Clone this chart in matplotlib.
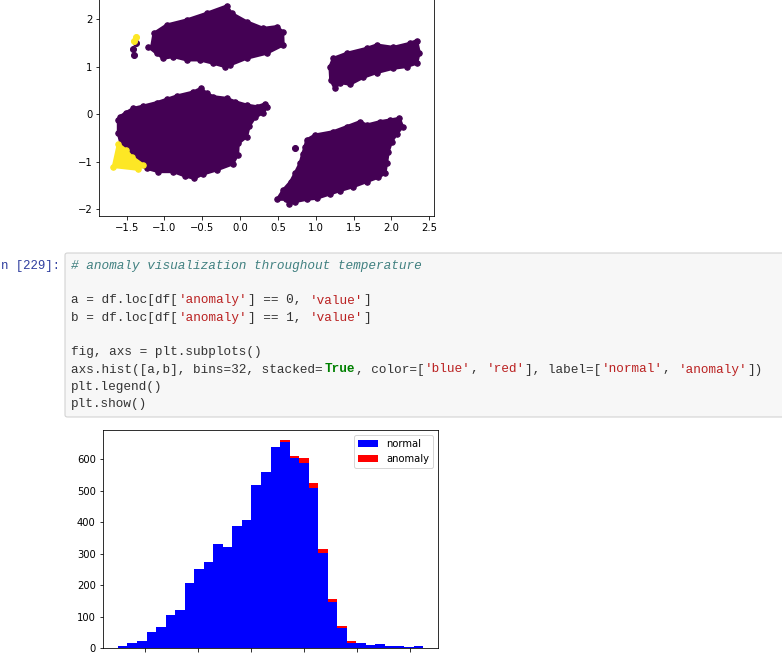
import numpy as np
import matplotlib.pyplot as plt
from matplotlib.patches import FancyBboxPatch

# figure is a notebook screenshot: 782x654 px, drawn at 72 dpi like old inline plots
W, H = 782, 654

# --- scatter clusters (outlines of the dense point clouds, data coords) ---
cluster_top_left = [(-1.17, 1.42), (-1.139, 1.705), (-0.971, 1.88), (-0.707, 1.986), (-0.443, 2.126),
                    (-0.178, 2.28), (-0.112, 2.126), (0.086, 1.95), (0.306, 1.81), (0.482, 1.846),
                    (0.562, 1.74), (0.570, 1.46), (0.35, 1.284), (0.086, 1.179), (-0.134, 1.039),
                    (-0.2, 1.004), (-0.355, 1.074), (-0.531, 1.144), (-0.707, 1.144), (-0.883, 1.214),
                    (-1.015, 1.179), (-1.104, 1.284), (-1.214, 1.425)]
cluster_top_right = [(1.187, 1.003), (1.231, 1.179), (1.407, 1.284), (1.672, 1.389), (1.804, 1.46),
                     (2.024, 1.41), (2.244, 1.495), (2.333, 1.551), (2.368, 1.298), (2.333, 1.074),
                     (2.2, 1.004), (2.024, 0.968), (1.804, 0.877), (1.628, 0.779), (1.452, 0.632),
                     (1.319, 0.667), (1.253, 0.547), (1.196, 0.723)]
cluster_bottom_left = [(-1.588, -0.049), (-1.509, 0.035), (-1.412, 0.126), (-1.28, 0.175), (-1.104, 0.246),
                       (-0.971, 0.316), (-0.839, 0.386), (-0.619, 0.47), (-0.518, 0.547), (-0.443, 0.442),
                       (-0.355, 0.372), (-0.178, 0.337), (-0.068, 0.267), (0.086, 0.196), (0.218, 0.161),
                       (0.328, 0.218), (0.35, 0.147), (0.306, 0.035), (0.196, -0.063), (0.121, -0.246),
                       (0.086, -0.47), (-0.024, -0.611), (-0.033, -0.856), (-0.1, -1.046), (-0.311, -1.172),
                       (-0.487, -1.256), (-0.61, -1.347), (-0.729, -1.298), (-0.883, -1.207), (-1.081, -1.207),
                       (-1.236, -1.137), (-1.368, -1.032), (-1.478, -0.856), (-1.566, -0.681), (-1.61, -0.4),
                       (-1.61, -0.119)]
cluster_bottom_right = [(0.879, -0.54), (0.989, -0.435), (1.231, -0.365), (1.407, -0.26), (1.584, -0.154),
                        (1.672, -0.225), (1.848, -0.154), (1.98, -0.119), (2.104, -0.084), (2.148, -0.26),
                        (2.068, -0.414), (2.002, -0.575), (1.958, -0.786), (1.936, -1.032), (1.914, -1.242),
                        (1.826, -1.326), (1.672, -1.418), (1.496, -1.523), (1.319, -1.607), (1.187, -1.677),
                        (1.011, -1.768), (0.879, -1.789), (0.725, -1.839), (0.65, -1.888), (0.606, -1.789),
                        (0.491, -1.789), (0.57, -1.593), (0.667, -1.418), (0.725, -1.242), (0.791, -1.032),
                        (0.826, -0.835), (0.857, -0.681)]
anomaly_cluster = [(-1.61, -0.625), (-1.676, -1.10), (-1.346, -1.158), (-1.28, -1.067),
                   (-1.434, -0.891), (-1.509, -0.751)]

normal_pts_x = [-1.377, -1.412, -1.403, 0.725]
normal_pts_y = [1.495, 1.368, 1.249, -0.716]
anomaly_pts_x = [-1.377, -1.403]
anomaly_pts_y = [1.635, 1.537]

# --- histogram (temperature), 32 bins ---
temp_min, temp_max = 57.458, 86.223
normal_counts = [7, 17, 23, 52, 68, 106, 122, 208, 252, 275, 332, 322, 389, 408, 519, 561,
                 640, 655, 605, 589, 510, 303, 147, 65, 18, 17, 11, 14, 7, 7, 4, 7]
anomaly_counts = [0, 0, 0, 0, 0, 0, 0, 0, 0, 0, 0, 0, 0, 0, 0, 0,
                  0, 5, 7, 16, 16, 13, 10, 6, 5, 0, 0, 0, 0, 0, 0, 0]

PURPLE = '#440154'
YELLOW = '#fde725'


def rect(left, top, right, bottom):
    return [left / W, 1 - bottom / H, (right - left) / W, (bottom - top) / H]


fig = plt.figure(figsize=(W / 72, H / 72), dpi=72)

# scatter plot (top, partly cut off)
ax1 = fig.add_axes(rect(99.3, -4, 434.3, 216))
for poly in [cluster_top_left, cluster_top_right, cluster_bottom_left, cluster_bottom_right]:
    xs, ys = zip(*poly)
    ax1.fill(xs, ys, facecolor=PURPLE, edgecolor=PURPLE, lw=3, joinstyle='round')
    # point markers along the outline give the ragged, dotted edge
    ax1.scatter(xs, ys, color=PURPLE, s=30)
ax1.scatter(normal_pts_x, normal_pts_y, color=PURPLE)
xs, ys = zip(*anomaly_cluster)
ax1.fill(xs, ys, facecolor=YELLOW, edgecolor=YELLOW, lw=3, joinstyle='round')
ax1.scatter(xs, ys, color=YELLOW, s=30)
ax1.scatter(anomaly_pts_x, anomaly_pts_y, color=YELLOW)
ax1.set_xlim(-1.861, 2.566)
ax1.set_ylim(-2.14, 2.49)
ax1.set_xticks(np.arange(-1.5, 2.51, 0.5))
ax1.set_yticks([-2, -1, 0, 1, 2])

# code cell
fig.patches.append(FancyBboxPatch((65 / W, 1 - 417 / H), 760 / W, 164 / H,
                                  boxstyle='round,pad=0,rounding_size=0.003',
                                  transform=fig.transFigure, facecolor='#f7f7f7',
                                  edgecolor='#cfcfcf', lw=1))

mono = 'Liberation Mono'
fs = 12.8
cw = 7.69
x0, y0, lh = 71, 266, 17.25
TXT, STR, KW, COM = '#333333', '#ba2121', '#008000', '#408080'
code = [
    [('# anomaly visualization throughout temperature', COM)],
    [],
    [("a = df.loc[df[", TXT), ("'anomaly'", STR), ("] == 0, ", TXT), ("'value'", STR), ("]", TXT)],
    [("b = df.loc[df[", TXT), ("'anomaly'", STR), ("] == 1, ", TXT), ("'value'", STR), ("]", TXT)],
    [],
    [("fig, axs = plt.subplots()", TXT)],
    [("axs.hist([a,b], bins=32, stacked=", TXT), ("True", KW), (", color=[", TXT), ("'blue'", STR),
     (", ", TXT), ("'red'", STR), ("], label=[", TXT), ("'normal'", STR), (", ", TXT),
     ("'anomaly'", STR), ("])", TXT)],
    [("plt.legend()", TXT)],
    [("plt.show()", TXT)],
]
for i, segs in enumerate(code):
    col = 0
    for s, c in segs:
        style = 'italic' if c == COM else 'normal'
        weight = 'bold' if c == KW else 'normal'
        fig.text((x0 + col * cw) / W, 1 - (y0 + i * lh) / H, s, color=c, family=mono,
                 fontsize=fs, style=style, weight=weight, va='center', ha='left')
        col += len(s)

# prompt: the screenshot's left edge cuts the "I" away
fig.text(1 / W, 1 - 266 / H, 'n [229]:', color='#303f9f', family=mono, fontsize=12.4,
         va='center', ha='left')

# stacked histogram (bottom); its tick labels fall below the screenshot edge
edges = np.linspace(temp_min, temp_max, 33)
centers = (edges[:-1] + edges[1:]) / 2
ax2 = fig.add_axes(rect(102.7, 430, 438.3, 648.3))
ax2.hist([centers, centers], bins=edges, weights=[normal_counts, anomaly_counts], stacked=True,
         color=['blue', 'red'], label=['normal', 'anomaly'])
ax2.tick_params(axis='x', labelbottom=False)
ax2.legend()

fig.savefig('out.png', dpi=72)
